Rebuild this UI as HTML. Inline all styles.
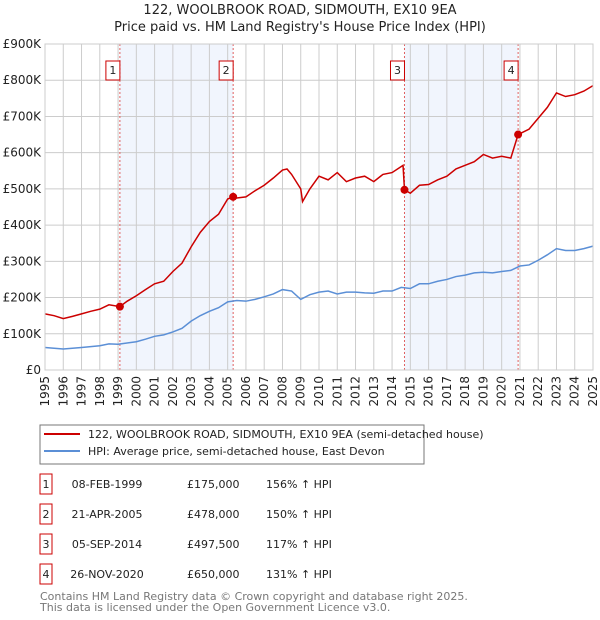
<!DOCTYPE html>
<html><head><meta charset="utf-8"><style>
body{margin:0;background:#fff;font-family:"DejaVu Sans","Liberation Sans",sans-serif;}
svg{display:block}
</style></head><body>
<svg id="c" width="600" height="620" xmlns="http://www.w3.org/2000/svg">
<text x="300" y="14" text-anchor="middle" font-size="13" fill="#222">122, WOOLBROOK ROAD, SIDMOUTH, EX10 9EA</text>
<text x="300" y="31" text-anchor="middle" font-size="13" fill="#222">Price paid vs. HM Land Registry's House Price Index (HPI)</text>
<g id="plot"></g>
<rect x="40" y="425" width="384" height="39" fill="#fff" stroke="#777"/>
<line x1="44" y1="434" x2="80" y2="434" stroke="#cc0000" stroke-width="2"/>
<text x="88" y="438" font-size="11" fill="#222">122, WOOLBROOK ROAD, SIDMOUTH, EX10 9EA (semi-detached house)</text>
<line x1="44" y1="451" x2="80" y2="451" stroke="#5b8fd6" stroke-width="2"/>
<text x="88" y="455" font-size="11" fill="#222">HPI: Average price, semi-detached house, East Devon</text>
<g id="tbl"></g>
<text x="40" y="600" font-size="11" fill="#777">Contains HM Land Registry data © Crown copyright and database right 2025.</text>
<text x="40" y="611" font-size="11" fill="#777">This data is licensed under the Open Government Licence v3.0.</text>
</svg>
<script>
const hpiYears=[1995,1995.5,1996,1997,1998,1998.5,1999,2000,2000.5,2001,2001.5,2002,2002.5,2003,2003.5,2004,2004.5,2005,2005.5,2006,2006.5,2007,2007.5,2008,2008.5,2009,2009.5,2010,2010.5,2011,2011.5,2012,2012.5,2013,2013.5,2014,2014.5,2015,2015.5,2016,2016.5,2017,2017.5,2018,2018.5,2019,2019.5,2020,2020.5,2021,2021.5,2022,2022.5,2023,2023.5,2024,2024.5,2025];
const hpiValues=[62,60,58,62,67,72,71,78,85,93,97,105,115,135,150,162,172,188,192,190,195,202,210,222,218,195,208,215,218,210,215,215,213,212,218,218,228,225,238,238,245,250,258,262,268,270,268,272,275,287,290,303,318,335,330,330,335,342];
const priceYears=[1995,1995.5,1996,1996.5,1997,1997.5,1998,1998.5,1999.1,1999.5,2000,2000.5,2001,2001.5,2002,2002.5,2003,2003.5,2004,2004.5,2005,2005.3,2005.5,2006,2006.5,2007,2007.5,2008,2008.25,2008.5,2009,2009.1,2009.5,2010,2010.5,2011,2011.5,2012,2012.5,2013,2013.5,2014,2014.6,2014.68,2015,2015.5,2016,2016.5,2017,2017.5,2018,2018.5,2019,2019.5,2020,2020.5,2020.9,2021.5,2022,2022.5,2023,2023.5,2024,2024.5,2025];
const priceValues=[155,150,142,148,155,162,168,180,175,190,205,222,238,245,272,295,340,380,410,430,472,478,475,478,495,510,530,552,555,540,500,465,500,535,525,545,520,530,535,520,540,545,565,497.5,488,510,512,525,535,555,565,575,595,585,590,585,650,665,695,725,765,755,760,770,785];
const saleYears=[1999.1,2005.3,2014.68,2020.9];
const saleValues=[175,478,497.5,650];
const saleLabels=["1","2","3","4"];
const saleDates=["08-FEB-1999","21-APR-2005","05-SEP-2014","26-NOV-2020"];
const salePrices=["£175,000","£478,000","£497,500","£650,000"];
const saleHpi=["156% ↑ HPI","150% ↑ HPI","117% ↑ HPI","131% ↑ HPI"];
const yTicks=[0,100,200,300,400,500,600,700,800,900];
const yTickLabels=["£0","£100K","£200K","£300K","£400K","£500K","£600K","£700K","£800K","£900K"];
const xTicks=[1995,1996,1997,1998,1999,2000,2001,2002,2003,2004,2005,2006,2007,2008,2009,2010,2011,2012,2013,2014,2015,2016,2017,2018,2019,2020,2021,2022,2023,2024,2025];

const NS="http://www.w3.org/2000/svg";
const L=45,R=593,T=44,B=370;
const xs=y=>L+(y-1995)/(2025-1995)*(R-L);
const ys=v=>B-v/900*(B-T);
const g=document.getElementById('plot');
function mk(tag,at,parent){const e=document.createElementNS(NS,tag);for(const k in at)e.setAttribute(k,at[k]);(parent||g).appendChild(e);return e;}
let e;
e=mk('rect',{x:L,y:T,width:R-L,height:B-T,fill:'#fff'});


// shading
for(let i=0;i<saleYears.length;i+=2){
 e=mk('rect',{x:xs(saleYears[i]),y:T,width:xs(saleYears[i+1])-xs(saleYears[i]),height:B-T,fill:'#eef3fc',opacity:0.8});
 
 
}
yTicks.forEach((v,i)=>{
 e=mk('line',{x1:L,x2:R,y1:ys(v),y2:ys(v),stroke:'#ccc'});
 
 
 e=mk('text',{x:L-4,y:ys(v)+4,'text-anchor':'end','font-size':12,fill:'#222'});e.textContent=yTickLabels[i];
 
 
});
xTicks.forEach(y=>{
 e=mk('line',{x1:xs(y),x2:xs(y),y1:T,y2:B,stroke:'#ccc'});
 
 
 e=mk('text',{x:0,y:0,'text-anchor':'end','font-size':12,fill:'#222',transform:`translate(${xs(y)+4},${B+6}) rotate(-90)`});e.textContent=y;
 
 
});
saleYears.forEach((y,i)=>{
 e=mk('line',{x1:xs(y),x2:xs(y),y1:T,y2:B,stroke:'#e06060','stroke-dasharray':'2,2'});
 
 
 e=mk('rect',{x:xs(y)-14,y:61,width:14,height:19,fill:'#fff',stroke:'#cc0000'});
 
 
 e=mk('text',{x:xs(y)-7,y:74,'text-anchor':'middle','font-size':11,fill:'#222'});e.textContent=saleLabels[i];
 
 
});
e=mk('polyline',{points:hpiYears.map((y,i)=>xs(y)+','+ys(hpiValues[i])).join(' '),fill:'none',stroke:'#5b8fd6','stroke-width':1.5});


e=mk('polyline',{points:priceYears.map((y,i)=>xs(y)+','+ys(priceValues[i])).join(' '),fill:'none',stroke:'#cc0000','stroke-width':1.5});


saleYears.forEach((y,i)=>{
 e=mk('circle',{cx:xs(y),cy:ys(saleValues[i]),r:4,fill:'#cc0000'});
 
 
});
e=mk('rect',{x:L,y:T,width:R-L,height:B-T,fill:'none',stroke:'#ccc'});


const tb=document.getElementById('tbl');
saleLabels.forEach((s,i)=>{
 const cy=484+i*30;
 e=mk('rect',{x:40,y:cy-10,width:12,height:20,fill:'#fff',stroke:'#cc0000'},tb);
 
 
 const cells=[[46,'middle',s],[107,'middle',saleDates[i]],[187,'start',salePrices[i]],[266,'start',saleHpi[i]]];
 cells.forEach(c=>{
  e=mk('text',{x:c[0],y:cy+4,'text-anchor':c[1],'font-size':11,fill:'#222'},tb);e.textContent=c[2];
  
  
 });
});
</script>
</body></html>
